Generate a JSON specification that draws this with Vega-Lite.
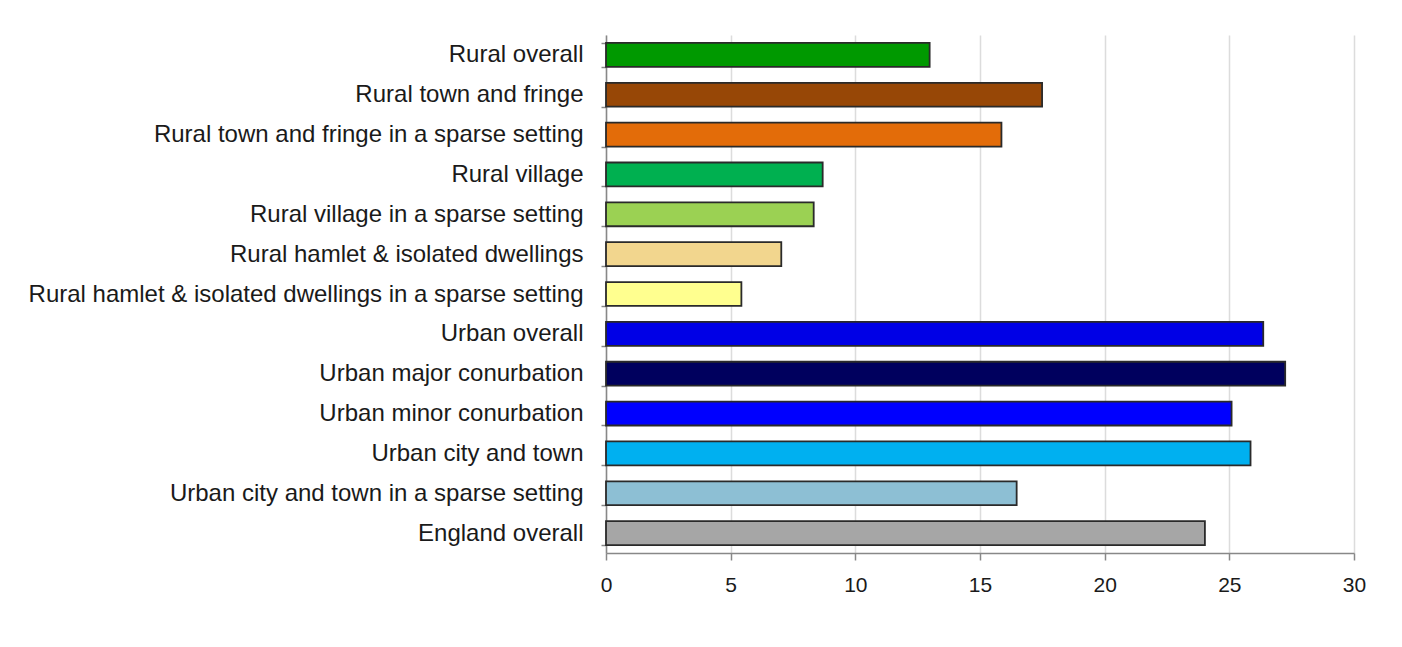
{
  "$schema": "https://vega.github.io/schema/vega-lite/v6.json",
  "autosize": {"type": "none"},
  "padding": {"left": 606, "top": 35, "right": 48, "bottom": 94},
  "width": 748,
  "height": 518,
  "background": "white",
  "config": {"view": {"stroke": null}, "font": "Liberation Sans"},
  "data": {
    "values": [
      {"category": "Rural overall", "value": 12.98, "color": "#009900"},
      {"category": "Rural town and fringe", "value": 17.49, "color": "#974706"},
      {"category": "Rural town and fringe in a sparse setting", "value": 15.86, "color": "#E36C09"},
      {"category": "Rural village", "value": 8.69, "color": "#00B050"},
      {"category": "Rural village in a sparse setting", "value": 8.33, "color": "#9BD153"},
      {"category": "Rural hamlet & isolated dwellings", "value": 7.03, "color": "#F2D68E"},
      {"category": "Rural hamlet & isolated dwellings in a sparse setting", "value": 5.43, "color": "#FFFF8F"},
      {"category": "Urban overall", "value": 26.36, "color": "#0000E6"},
      {"category": "Urban major conurbation", "value": 27.24, "color": "#00005E"},
      {"category": "Urban minor conurbation", "value": 25.09, "color": "#0000FF"},
      {"category": "Urban city and town", "value": 25.85, "color": "#00B0F0"},
      {"category": "Urban city and town in a sparse setting", "value": 16.47, "color": "#8DBFD4"},
      {"category": "England overall", "value": 24.02, "color": "#A6A6A6"}
    ]
  },
  "mark": {"type": "bar", "stroke": "#2a2a2a", "strokeWidth": 1.8},
  "encoding": {
    "y": {
      "field": "category",
      "type": "nominal",
      "sort": null,
      "scale": {"paddingInner": 0.4, "paddingOuter": 0.2},
      "axis": {
        "title": null,
        "tickBand": "extent",
        "domainColor": "#888888",
        "domainWidth": 1.5,
        "tickColor": "#888888",
        "tickWidth": 1.5,
        "tickSize": 5,
        "labelPadding": 18,
        "labelFontSize": 24,
        "labelColor": "#1a1a1a",
        "labelLimit": 700,
        "grid": false
      }
    },
    "x": {
      "field": "value",
      "type": "quantitative",
      "scale": {"domain": [0, 30], "nice": false},
      "axis": {
        "title": null,
        "values": [0, 5, 10, 15, 20, 25, 30],
        "labelFlush": false,
        "domainColor": "#888888",
        "domainWidth": 1.5,
        "tickColor": "#888888",
        "tickWidth": 1.5,
        "tickSize": 7,
        "labelPadding": 14,
        "labelFontSize": 21,
        "labelColor": "#1a1a1a",
        "grid": true,
        "gridColor": "#dcdcdc",
        "gridWidth": 1.5
      }
    },
    "fill": {"field": "color", "type": "nominal", "scale": null, "legend": null}
  }
}
